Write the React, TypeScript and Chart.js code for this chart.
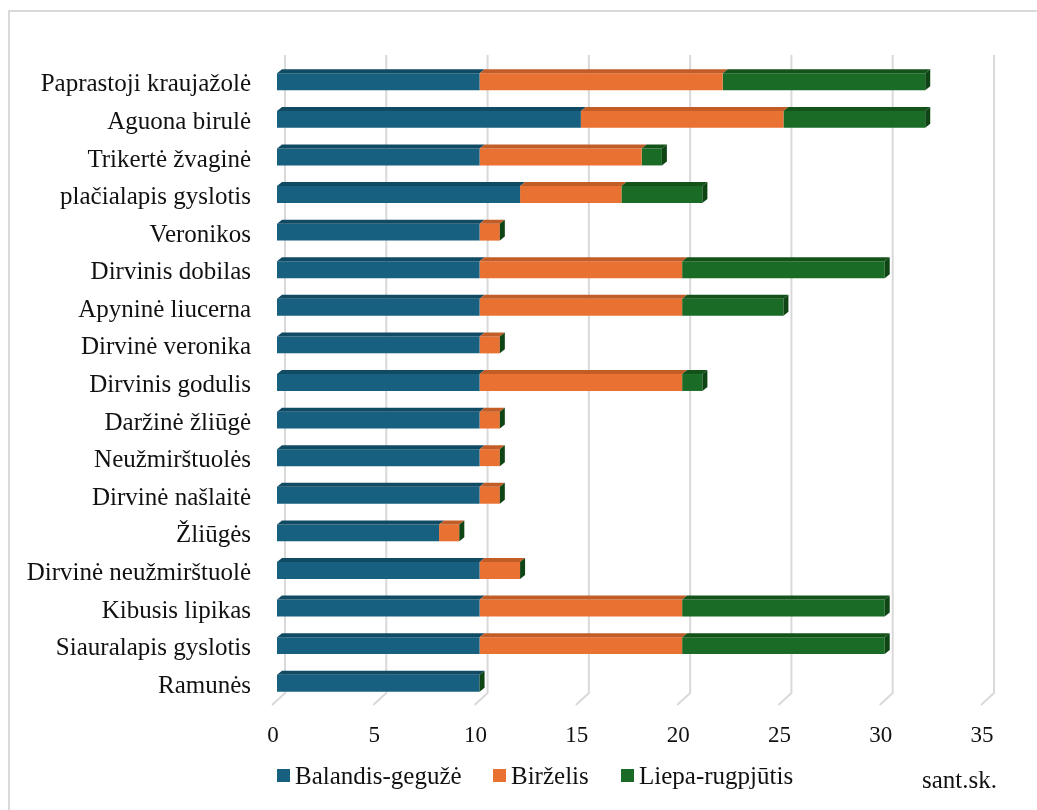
import React, { useEffect, useRef } from 'react';
import { Chart, registerables } from 'chart.js';

Chart.register(...registerables);

const categories = [
  'Paprastoji kraujažolė',
  'Aguona birulė',
  'Trikertė žvaginė',
  'plačialapis gyslotis',
  'Veronikos',
  'Dirvinis dobilas',
  'Apyninė liucerna',
  'Dirvinė veronika',
  'Dirvinis godulis',
  'Daržinė žliūgė',
  'Neužmirštuolės',
  'Dirvinė našlaitė',
  'Žliūgės',
  'Dirvinė neužmirštuolė',
  'Kibusis lipikas',
  'Siauralapis gyslotis',
  'Ramunės',
];

const balandisGeguze = [10, 15, 10, 12, 10, 10, 10, 10, 10, 10, 10, 10, 8, 10, 10, 10, 10];
const birzelis = [12, 10, 8, 5, 1, 10, 10, 1, 10, 1, 1, 1, 1, 2, 10, 10, 0];
const liepaRugpjutis = [10, 7, 1, 4, 0, 10, 5, 0, 1, 0, 0, 0, 0, 0, 10, 10, 0];

const seriesNames = ['Balandis-gegužė', 'Birželis', 'Liepa-rugpjūtis'];
const xTicks = [0, 5, 10, 15, 20, 25, 30, 35];
const unitLabel = 'sant.sk.';

const FONT = '"Liberation Serif", "Times New Roman", serif';
const frontColors = ['#17607F', '#E97132', '#1A6B25'];
const topColors = ['#114A63', '#C25D27', '#135219'];
const sideColor = '#0F4415';
const DX = 5;
const DY = 4;

// Draws the back-wall gridlines with their floor bend, the top faces and end
// caps of the bars, the legend row and the unit caption.
const reliefPlugin = {
  id: 'relief',
  beforeDatasetsDraw(chart: any) {
    const { ctx, chartArea, scales } = chart;
    const x = scales.x;
    ctx.save();
    ctx.strokeStyle = '#d9d9d9';
    ctx.lineWidth = 2;
    const backY = chartArea.bottom - 9;
    const frontY = chartArea.bottom + 3;
    xTicks.forEach((v) => {
      const px = x.getPixelForValue(v);
      ctx.beginPath();
      ctx.moveTo(px + 8, 55);
      ctx.lineTo(px + 8, backY);
      ctx.lineTo(px - 5, frontY);
      ctx.stroke();
    });
    ctx.restore();
  },
  afterDatasetsDraw(chart: any) {
    const { ctx } = chart;
    ctx.save();
    const n = chart.data.datasets.length;
    for (let i = 0; i < n; i++) {
      const meta = chart.getDatasetMeta(i);
      meta.data.forEach((bar: any) => {
        const { x, y, base, height } = bar.getProps(['x', 'y', 'base', 'height'], true);
        const top = y - height / 2;
        const bottom = y + height / 2;
        const x0 = Math.min(base, x);
        const x1 = Math.max(base, x);
        if (x1 - x0 > 0.5) {
          ctx.fillStyle = topColors[i];
          ctx.beginPath();
          ctx.moveTo(x0, top);
          ctx.lineTo(x0 + DX, top - DY);
          ctx.lineTo(x1 + DX, top - DY);
          ctx.lineTo(x1, top);
          ctx.closePath();
          ctx.fill();
        }
        if (i === n - 1) {
          ctx.fillStyle = sideColor;
          ctx.beginPath();
          ctx.moveTo(x1, top);
          ctx.lineTo(x1 + DX, top - DY);
          ctx.lineTo(x1 + DX, bottom - DY);
          ctx.lineTo(x1, bottom);
          ctx.closePath();
          ctx.fill();
        }
      });
    }
    ctx.restore();
  },
  afterDraw(chart: any) {
    const { ctx } = chart;
    ctx.save();
    ctx.font = `25px ${FONT}`;
    ctx.fillStyle = '#111';
    ctx.textBaseline = 'middle';
    ctx.textAlign = 'left';
    const itemX = [277, 493, 621];
    chart.data.datasets.forEach((ds: any, i: number) => {
      ctx.fillStyle = ds.backgroundColor;
      ctx.fillRect(itemX[i], 769, 13, 13);
      ctx.fillStyle = '#111';
      ctx.fillText(ds.label, itemX[i] + 18, 777);
    });
    ctx.textBaseline = 'alphabetic';
    ctx.fillText(unitLabel, 922, 788);
    ctx.restore();
  },
};

export default function App() {
  const canvasRef = useRef<HTMLCanvasElement | null>(null);

  useEffect(() => {
    const canvas = canvasRef.current;
    if (!canvas) return;
    const chart = new Chart(canvas, {
      type: 'bar',
      data: {
        labels: categories,
        datasets: [
          { label: seriesNames[0], data: balandisGeguze, backgroundColor: frontColors[0] },
          { label: seriesNames[1], data: birzelis, backgroundColor: frontColors[1] },
          { label: seriesNames[2], data: liepaRugpjutis, backgroundColor: frontColors[2] },
        ],
      },
      options: {
        indexAxis: 'y',
        responsive: false,
        animation: false,
        devicePixelRatio: 1,
        layout: { padding: { top: 63, right: 51, bottom: 48, left: 0 } },
        datasets: {
          bar: { categoryPercentage: 1, barPercentage: 0.45, borderWidth: 0 },
        },
        plugins: {
          legend: { display: false },
          tooltip: { enabled: false },
        },
        scales: {
          x: {
            stacked: true,
            min: 0,
            max: 35,
            afterFit: (s: any) => { s.height = 60; },
            afterBuildTicks: (s: any) => { s.ticks = xTicks.map((v) => ({ value: v })); },
            grid: { display: false, drawTicks: false },
            border: { display: false },
            ticks: {
              color: '#111',
              font: { family: FONT, size: 23 },
              padding: 20,
              labelOffset: -4,
              maxRotation: 0,
            },
          },
          y: {
            stacked: true,
            afterFit: (s: any) => { s.width = 277; },
            grid: { display: false, drawTicks: false },
            border: { display: false },
            ticks: {
              color: '#111',
              font: { family: FONT, size: 25 },
              padding: 26,
              labelOffset: 3,
              autoSkip: false,
            },
          },
        },
      },
      plugins: [reliefPlugin],
    });
    return () => chart.destroy();
  }, []);

  return (
    <div style={{ position: 'fixed', left: 0, top: 0, width: 1037, height: 810, overflow: 'hidden', background: '#fff' }}>
      <div
        style={{
          position: 'absolute',
          left: 8,
          top: 10,
          width: 1200,
          height: 1000,
          borderLeft: '2px solid #d9d9d9',
          borderTop: '2px solid #d9d9d9',
        }}
      />
      <canvas
        ref={canvasRef}
        width={1037}
        height={810}
        style={{ position: 'absolute', left: 0, top: 0, width: 1037, height: 810 }}
      />
    </div>
  );
}
